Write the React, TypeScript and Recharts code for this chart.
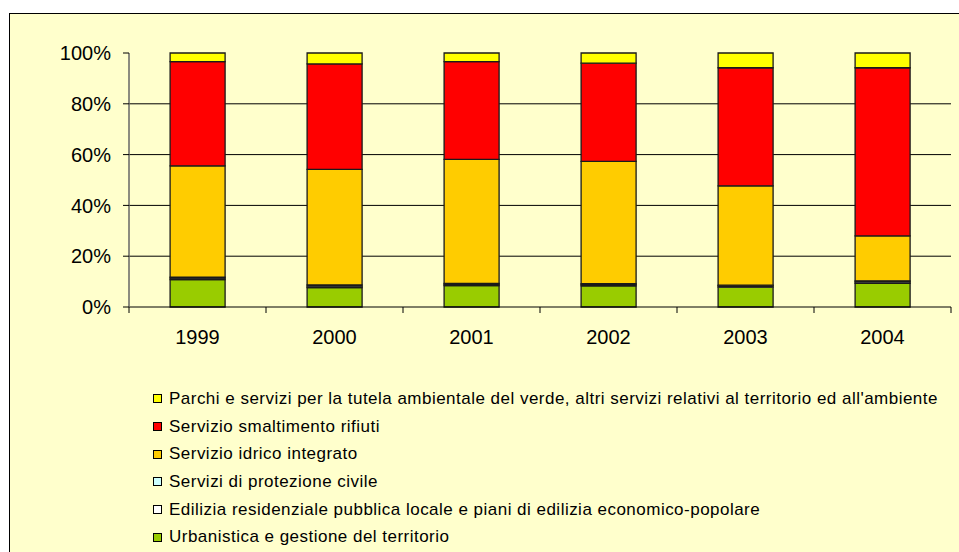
import React from 'react';
import { BarChart, Bar, XAxis, YAxis, CartesianGrid } from 'recharts';

// anni
const years = ['1999', '2000', '2001', '2002', '2003', '2004'];

// quote percentuali per voce di spesa (dal basso verso l'alto)
const urbanistica = [10.8, 7.6, 8.4, 8.3, 7.8, 9.3];
const edilizia = [0.6, 0.6, 0.5, 0.5, 0.5, 0.6];
const protezione = [0.4, 0.5, 0.4, 0.4, 0.3, 0.4];
const idrico = [43.8, 45.5, 48.8, 48.1, 39.1, 17.7];
const rifiuti = [41.0, 41.5, 38.5, 38.7, 46.5, 66.2];
const parchi = [3.4, 4.3, 3.4, 4.0, 5.8, 5.8];

const yTicks = [0, 0.2, 0.4, 0.6, 0.8, 1];
const gridValues = [0.2, 0.4, 0.6, 0.8];

const series = [
  { key: 'urbanistica', name: 'Urbanistica e gestione del territorio', color: '#99CC00', values: urbanistica },
  { key: 'edilizia', name: 'Edilizia residenziale pubblica locale e piani di edilizia economico-popolare', color: '#FFFFFF', values: edilizia },
  { key: 'protezione', name: 'Servizi di protezione civile', color: '#CCFFFF', values: protezione },
  { key: 'idrico', name: 'Servizio idrico integrato', color: '#FFCC00', values: idrico },
  { key: 'rifiuti', name: 'Servizio smaltimento rifiuti', color: '#FF0000', values: rifiuti },
  { key: 'parchi', name: "Parchi e servizi per la tutela ambientale del verde, altri servizi relativi al territorio ed all'ambiente", color: '#FFFF00', values: parchi },
];

const data = years.map((year, i) => {
  const row: any = { year };
  series.forEach((s) => {
    row[s.key] = s.values[i];
  });
  return row;
});

const FONT = '"Liberation Sans", Arial, sans-serif';
const CHART_W = 949;
const CHART_H = 338;
const MARGIN = { top: 39, right: 8, left: 0, bottom: 0 };
const Y_AXIS_W = 119;
const BAND = (CHART_W - MARGIN.left - MARGIN.right - Y_AXIS_W) / years.length;

const XTick = (props: any) => {
  const { x, y, payload, index } = props;
  const half = BAND / 2;
  return (
    <g>
      {index === 0 && <line x1={x - half} x2={x - half} y1={y} y2={y + 6} stroke="#000" />}
      <line x1={x + half} x2={x + half} y1={y} y2={y + 6} stroke="#000" />
      <text x={x} y={y + 23} dy="0.71em" textAnchor="middle" fill="#000" fontSize={20} fontFamily={FONT}>
        {payload.value}
      </text>
    </g>
  );
};

export default function App() {
  const legendItems = [...series].reverse();
  return (
    <div
      style={{
        position: 'fixed',
        left: 9,
        top: 13,
        width: 960,
        height: 560,
        border: '1px solid #000',
        background: '#FFFFCC',
        fontFamily: FONT,
      }}
    >
      <div style={{ position: 'absolute', left: 0, top: 0 }}>
        <BarChart width={CHART_W} height={CHART_H} data={data} margin={MARGIN} stackOffset="expand" barCategoryGap="30%">
          <CartesianGrid vertical={false} horizontalValues={gridValues} stroke="#000" />
          <XAxis
            dataKey="year"
            height={45}
            axisLine={{ stroke: '#000' }}
            tickLine={false}
            tickSize={0}
            tickMargin={0}
            tick={<XTick />}
            interval={0}
          />
          <YAxis
            width={Y_AXIS_W}
            domain={[0, 1]}
            ticks={yTicks}
            tickFormatter={(v: number) => `${Math.round(v * 100)}%`}
            axisLine={{ stroke: '#666', strokeWidth: 1.5 }}
            tickLine={{ stroke: '#000' }}
            tickSize={6}
            tickMargin={12}
            tick={{ fill: '#000', fontSize: 20, fontFamily: FONT }}
          />
          {series.map((s) => (
            <Bar
              key={s.key}
              dataKey={s.key}
              name={s.name}
              stackId="a"
              fill={s.color}
              stroke="#1a1a1a"
              strokeWidth={1.3}
              isAnimationActive={false}
            />
          ))}
        </BarChart>
      </div>
      <div style={{ position: 'absolute', left: 143, top: 371 }}>
        {legendItems.map((s) => (
          <div
            key={s.key}
            style={{ display: 'flex', alignItems: 'center', height: 27.7, fontSize: 17, letterSpacing: 0.48, color: '#000', whiteSpace: 'nowrap' }}
          >
            <span
              style={{
                display: 'inline-block',
                width: 9,
                height: 9,
                boxSizing: 'border-box',
                border: '1px solid #000',
                background: s.color,
                marginRight: 7,
              }}
            />
            <span>{s.name}</span>
          </div>
        ))}
      </div>
    </div>
  );
}
